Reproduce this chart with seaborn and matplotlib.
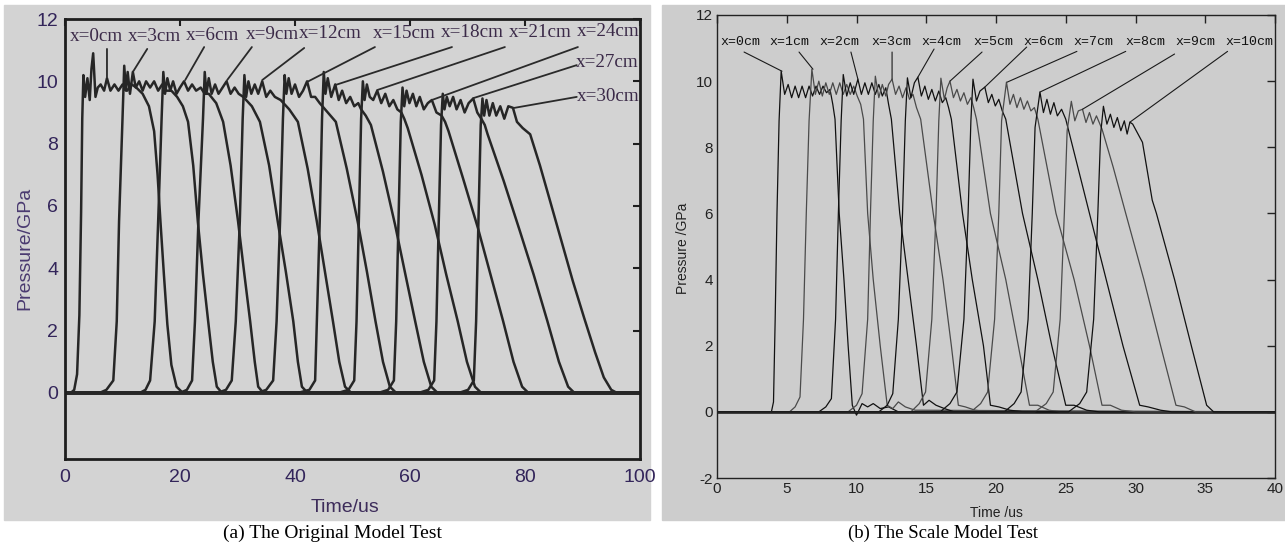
import matplotlib
matplotlib.use('Agg')
import matplotlib.pyplot as plt
from matplotlib.patches import Rectangle
from matplotlib import font_manager
import seaborn as sns
import pandas as pd

# ---------------- (a) original model test: x = 0..30 cm ----------------
a_probes = ['x=0cm', 'x=3cm', 'x=6cm', 'x=9cm', 'x=12cm', 'x=15cm',
            'x=18cm', 'x=21cm', 'x=24cm', 'x=27cm', 'x=30cm']
a_time = [
    [0, 1.0, 1.6, 2.1, 2.5, 2.8, 3.0, 3.2, 3.5, 3.9, 4.3, 4.6, 4.9, 5.3, 5.7, 6.2, 6.8, 7.3, 7.9, 8.6,
     9.3, 10.0, 10.8, 11.6, 12.4, 13.5, 14.6, 15.5, 16.1, 16.6, 17.2, 17.8, 18.5, 19.4, 20.5, 100],
    [0, 6.0, 7.2, 8.4, 9.0, 9.4, 10.0, 10.3, 10.6, 10.9, 11.3, 11.8, 12.3, 12.9, 13.5, 14.1, 14.8, 15.5, 16.2, 16.9,
     17.6, 18.5, 19.5, 20.5, 21.4, 22.3, 23.1, 24.0, 24.9, 25.7, 26.4, 27.3, 100],
    [0, 13.0, 14.0, 14.8, 15.6, 16.2, 16.8, 17.1, 17.4, 17.8, 18.3, 18.8, 19.4, 20.0, 20.7, 21.4, 22.1, 22.8, 23.6, 24.3,
     25.0, 26.3, 27.5, 28.8, 30.1, 31.2, 32.2, 33.0, 33.6, 34.5, 100],
    [0, 20.0, 21.2, 22.1, 22.6, 23.2, 24.0, 24.3, 24.6, 25.0, 25.5, 26.1, 26.7, 27.4, 28.1, 28.8, 29.5, 30.2, 31.0, 32.5,
     33.9, 35.5, 37.0, 38.4, 39.7, 40.5, 41.2, 42.2, 100],
    [0, 26.5, 28.0, 29.0, 29.7, 30.4, 30.9, 31.2, 31.5, 31.9, 32.4, 33.0, 33.6, 34.3, 35.0, 35.7, 36.5, 37.5, 39.0, 40.5,
     42.2, 43.8, 45.2, 46.6, 47.7, 48.7, 49.8, 100],
    [0, 33.5, 35.0, 36.2, 36.8, 37.4, 37.9, 38.2, 38.5, 38.9, 39.4, 40.0, 40.7, 41.4, 42.1, 42.8, 43.5, 44.3, 45.7, 47.1,
     49.0, 50.9, 52.5, 54.0, 55.3, 56.5, 57.6, 100],
    [0, 40.5, 42.5, 43.5, 43.8, 44.3, 44.7, 45.0, 45.3, 45.7, 46.3, 47.0, 47.6, 48.2, 48.9, 49.6, 50.3, 51.0, 51.5, 52.3,
     53.2, 55.3, 57.4, 59.2, 60.9, 62.4, 63.7, 64.8, 100],
    [0, 47.5, 49.3, 50.3, 50.7, 51.1, 51.5, 51.8, 52.1, 52.5, 53.0, 53.6, 54.3, 55.0, 55.7, 56.4, 57.1, 57.8, 58.5, 59.0,
     59.6, 62.0, 64.3, 66.3, 68.3, 69.9, 71.3, 72.4, 100],
    [0, 54.5, 56.2, 57.2, 57.6, 58.0, 58.4, 58.7, 59.0, 59.4, 59.9, 60.5, 61.1, 61.7, 62.4, 63.1, 63.8, 64.6, 65.5, 66.1,
     66.7, 69.2, 71.8, 74.0, 76.2, 78.0, 79.5, 80.6, 100],
    [0, 61.5, 63.2, 64.2, 64.6, 65.0, 65.4, 65.7, 66.0, 66.4, 66.9, 67.5, 68.1, 68.8, 69.5, 70.2, 71.0, 71.7, 72.4, 73.0,
     73.5, 76.3, 79.1, 81.5, 83.9, 85.9, 87.5, 88.6, 100],
    [0, 68.5, 70.1, 71.1, 71.5, 71.9, 72.3, 72.6, 72.9, 73.3, 73.8, 74.4, 75.0, 75.7, 76.4, 77.1, 77.9, 78.6, 79.6, 80.9,
     82.6, 84.3, 86.3, 88.3, 90.3, 92.2, 93.7, 95.0, 96.0, 100],
]
a_pressure = [
    [0, 0, 0.1, 0.6, 2.5, 5.8, 8.8, 10.2, 9.5, 10.1, 9.4, 10.4, 10.9, 9.5, 9.8, 9.9, 9.7, 10.1, 9.7, 9.9,
     9.7, 9.9, 9.7, 9.9, 9.8, 9.6, 9.2, 8.4, 7.0, 5.5, 3.8, 2.2, 0.9, 0.2, 0, 0],
    [0, 0, 0.1, 0.4, 2.3, 5.5, 8.8, 10.5, 9.7, 10.3, 9.6, 10.3, 9.8, 10.0, 9.7, 10.0, 9.8, 10.0, 9.7, 9.9,
     9.7, 9.7, 9.5, 9.2, 8.7, 7.3, 5.5, 3.8, 2.3, 1.0, 0.2, 0, 0],
    [0, 0, 0.1, 0.4, 2.3, 5.5, 8.8, 10.3, 9.6, 10.1, 9.7, 10.0, 9.6, 9.8, 10.0, 9.7, 9.9, 9.7, 9.8, 9.6,
     9.6, 9.3, 8.7, 7.3, 5.5, 3.8, 2.3, 1.0, 0.2, 0, 0],
    [0, 0, 0.1, 0.4, 2.3, 5.5, 8.8, 10.3, 9.6, 10.1, 9.6, 9.9, 9.6, 9.8, 10.0, 9.6, 9.8, 9.6, 9.5, 9.2,
     8.7, 7.3, 5.5, 3.9, 2.3, 1.0, 0.2, 0, 0],
    [0, 0, 0.1, 0.4, 2.3, 5.5, 8.8, 10.2, 9.5, 10.0, 9.6, 9.9, 9.6, 10.0, 9.5, 9.7, 9.5, 9.4, 9.1, 8.7,
     7.2, 5.5, 3.9, 2.3, 1.0, 0.2, 0, 0],
    [0, 0, 0.1, 0.4, 2.3, 5.5, 8.8, 10.2, 9.6, 10.1, 9.6, 9.9, 9.5, 9.7, 10.0, 9.5, 9.5, 9.3, 9.0, 8.7,
     7.2, 5.5, 3.9, 2.3, 1.0, 0.2, 0, 0],
    [0, 0, 0.1, 0.4, 2.3, 5.5, 8.8, 10.3, 9.6, 10.1, 9.5, 9.9, 9.4, 9.7, 9.3, 9.5, 9.2, 9.3, 9.1, 8.9,
     8.6, 7.1, 5.4, 3.8, 2.3, 1.0, 0.2, 0, 0],
    [0, 0, 0.1, 0.4, 2.3, 5.5, 8.8, 10.0, 9.4, 9.9, 9.5, 9.4, 9.7, 9.3, 9.6, 9.2, 9.4, 9.1, 9.0, 8.8,
     8.5, 7.0, 5.4, 3.8, 2.3, 1.0, 0.2, 0, 0],
    [0, 0, 0.1, 0.4, 2.3, 5.5, 8.7, 9.8, 9.2, 9.7, 9.3, 9.6, 9.2, 9.5, 9.1, 9.3, 9.4, 9.0, 8.9, 8.7,
     8.4, 6.9, 5.3, 3.8, 2.3, 1.0, 0.2, 0, 0],
    [0, 0, 0.1, 0.4, 2.3, 5.5, 8.6, 9.6, 9.1, 9.5, 9.2, 9.5, 9.1, 9.4, 9.0, 9.3, 9.45, 9.0, 8.8, 8.6,
     8.3, 6.8, 5.2, 3.8, 2.3, 1.0, 0.2, 0, 0],
    [0, 0, 0.1, 0.4, 2.3, 5.5, 8.6, 9.45, 8.9, 9.4, 8.9, 9.3, 8.9, 9.2, 8.8, 9.2, 9.15, 8.7, 8.5, 8.3,
     7.3, 6.2, 4.9, 3.6, 2.4, 1.3, 0.5, 0.1, 0, 0],
]
a_label_pos = [(5.4, 11.45), (15.5, 11.45), (25.6, 11.47), (36.0, 11.5), (46.1, 11.52), (59.0, 11.55),
               (70.8, 11.57), (82.6, 11.58), (94.4, 11.6), (94.3, 10.59), (94.4, 9.5)]
a_leader_from = [(7.3, 11.04), (14.3, 11.04), (24.2, 11.1), (32.5, 11.1), (41.6, 11.07), (53.9, 11.1),
                 (67.3, 11.1), (76.5, 11.1), (89.2, 11.1), (89.0, 10.52), (89.0, 9.5)]
a_leader_to = [(7.3, 10.14), (11.8, 10.3), (20.9, 10.04), (28.2, 10.04), (34.3, 10.04), (42.1, 9.98),
               (47.0, 9.88), (54.3, 9.72), (63.8, 9.4), (71.0, 9.46), (77.9, 9.14)]

# ---------------- (b) scale model test: x = 0..10 cm ----------------
b_probes = ['x=0cm', 'x=1cm', 'x=2cm', 'x=3cm', 'x=4cm', 'x=5cm',
            'x=6cm', 'x=7cm', 'x=8cm', 'x=9cm', 'x=10cm']
b_time = [
    [0, 3.9, 4.05, 4.17, 4.3, 4.45, 4.6, 4.85, 5.1, 5.35, 5.6, 5.85, 6.1, 6.35, 6.6, 6.85, 7.1, 7.35, 7.6, 7.85,
     8.1, 8.3, 8.46, 8.76, 9.1, 9.4, 9.7, 10.0, 10.4, 10.8, 11.2, 11.7, 12.3, 13.0, 40],
    [0, 5.2, 5.6, 5.95, 6.2, 6.4, 6.6, 6.8, 7.05, 7.3, 7.55, 7.8, 8.05, 8.3, 8.55, 8.8, 9.05, 9.3, 9.55, 9.8,
     10.05, 10.3, 10.5, 10.8, 11.2, 11.7, 12.2, 12.6, 13.0, 13.5, 14.2, 40],
    [0, 7.3, 7.8, 8.2, 8.5, 8.7, 8.9, 9.05, 9.3, 9.55, 9.8, 10.1, 10.35, 10.6, 10.85, 11.1, 11.35, 11.6, 11.85, 12.1,
     12.3, 12.5, 13.1, 13.7, 14.3, 14.8, 15.2, 15.7, 16.3, 17.0, 40],
    [0, 9.4, 10.0, 10.4, 10.8, 11.0, 11.2, 11.35, 11.6, 11.85, 12.1, 12.3, 12.55, 12.8, 13.05, 13.3, 13.55, 13.8, 14.05, 14.3,
     14.6, 15.5, 16.2, 16.8, 17.3, 17.8, 18.5, 19.5, 40],
    [0, 11.6, 12.2, 12.6, 13.0, 13.3, 13.5, 13.65, 13.9, 14.15, 14.4, 14.65, 14.9, 15.15, 15.4, 15.65, 15.9, 16.15, 16.4, 16.6,
     16.8, 17.6, 18.3, 19.1, 19.6, 20.2, 21.0, 22.0, 40],
    [0, 13.9, 14.5, 14.95, 15.4, 15.7, 15.9, 16.05, 16.3, 16.5, 16.7, 16.95, 17.2, 17.45, 17.7, 17.95, 18.2, 18.4, 18.6, 19.6,
     20.7, 21.6, 22.4, 23.0, 23.8, 24.6, 40],
    [0, 16.0, 16.7, 17.2, 17.7, 18.0, 18.2, 18.35, 18.6, 18.85, 19.2, 19.45, 19.7, 19.95, 20.2, 20.45, 20.7, 21.9, 23.0, 24.0,
     25.0, 25.6, 26.5, 27.4, 40],
    [0, 18.2, 18.9, 19.4, 19.9, 20.2, 20.4, 20.75, 21.0, 21.25, 21.5, 21.75, 22.0, 22.25, 22.5, 22.75, 23.0, 24.3, 25.6, 26.7,
     27.6, 28.2, 29.0, 30.0, 40],
    [0, 20.6, 21.3, 21.8, 22.3, 22.6, 22.8, 23.15, 23.4, 23.65, 23.9, 24.15, 24.4, 24.7, 25.0, 26.7, 27.9, 29.1, 30.3, 30.9,
     31.8, 32.6, 40],
    [0, 22.8, 23.6, 24.1, 24.6, 24.9, 25.1, 25.4, 25.65, 25.9, 26.2, 26.45, 26.7, 26.95, 27.2, 27.6, 28.4, 29.3, 30.6, 31.8,
     32.9, 33.5, 34.3, 40],
    [0, 25.2, 26.0, 26.5, 27.0, 27.3, 27.5, 27.7, 27.95, 28.2, 28.45, 28.7, 28.95, 29.2, 29.4, 29.6, 29.8, 30.5, 31.2, 31.5,
     32.8, 34.0, 35.1, 35.6, 40],
]
b_pressure = [
    [0, 0, 0.3, 2.8, 6.0, 8.8, 10.3, 9.6, 9.9, 9.5, 9.85, 9.5, 9.85, 9.5, 9.85, 9.55, 9.85, 9.6, 9.85, 9.65,
     9.75, 9.3, 8.85, 6.0, 4.0, 2.0, 0.2, -0.1, 0.25, 0.15, 0.25, 0.1, 0.15, 0, 0],
    [0, 0, 0.15, 0.45, 2.8, 6.0, 8.8, 10.36, 9.6, 10.0, 9.55, 9.95, 9.6, 9.95, 9.6, 9.95, 9.6, 9.9, 9.6, 9.85,
     9.55, 9.3, 8.85, 6.0, 4.0, 2.0, 0.2, 0.1, 0.3, 0.15, 0.05, 0],
    [0, 0, 0.15, 0.4, 2.8, 6.0, 8.8, 10.2, 9.55, 9.95, 9.6, 10.06, 9.6, 9.95, 9.6, 9.95, 9.6, 9.9, 9.55, 9.8,
     9.3, 8.85, 6.0, 4.0, 2.0, 0.2, 0.35, 0.2, 0.1, 0, 0],
    [0, 0, 0.2, 0.55, 2.8, 6.0, 8.8, 10.15, 9.5, 9.9, 9.55, 9.9, 10.06, 9.6, 9.85, 9.5, 9.8, 9.45, 9.6, 9.2,
     8.85, 6.0, 4.0, 2.0, 0.2, 0.15, 0.05, 0, 0],
    [0, 0, 0.2, 0.55, 2.8, 6.0, 8.8, 10.1, 9.5, 9.95, 10.12, 9.55, 9.85, 9.45, 9.75, 9.4, 9.7, 9.35, 9.5, 9.2,
     8.85, 6.0, 4.0, 2.0, 0.2, 0.15, 0.05, 0, 0],
    [0, 0, 0.25, 0.6, 2.8, 6.0, 8.8, 10.09, 9.45, 9.8, 10.0, 9.5, 9.75, 9.4, 9.65, 9.3, 9.5, 9.2, 8.85, 6.0,
     4.0, 2.0, 0.2, 0.2, 0.05, 0, 0],
    [0, 0, 0.25, 0.6, 2.8, 6.0, 8.8, 10.06, 9.4, 9.7, 9.82, 9.35, 9.6, 9.25, 9.45, 9.1, 8.85, 6.0, 4.0, 2.0,
     0.2, 0.2, 0.05, 0, 0],
    [0, 0, 0.25, 0.6, 2.8, 6.0, 8.8, 9.97, 9.3, 9.6, 9.2, 9.5, 9.15, 9.4, 9.1, 9.2, 8.85, 6.0, 4.0, 2.0,
     0.2, 0.2, 0.05, 0, 0],
    [0, 0, 0.25, 0.6, 2.8, 6.0, 8.6, 9.67, 9.05, 9.45, 9.0, 9.35, 8.95, 9.15, 8.85, 6.0, 4.0, 2.0, 0.2, 0.15,
     0.05, 0, 0],
    [0, 0, 0.25, 0.6, 2.8, 6.0, 8.5, 9.39, 8.8, 9.1, 9.15, 8.75, 9.05, 8.7, 8.95, 8.55, 7.4, 6.0, 4.0, 2.0,
     0.2, 0.15, 0, 0],
    [0, 0, 0.25, 0.6, 2.8, 6.0, 8.4, 9.24, 8.7, 9.0, 8.6, 8.9, 8.5, 8.8, 8.4, 8.76, 8.7, 8.15, 6.4, 6.0,
     4.0, 2.0, 0.2, 0, 0],
]
b_label_pos = [(1.65, 11.18), (5.2, 11.18), (8.8, 11.18), (12.5, 11.18), (16.1, 11.18), (19.8, 11.18),
               (23.4, 11.18), (26.95, 11.18), (30.7, 11.18), (34.3, 11.18), (38.2, 11.18)]
b_leader_from = [(1.94, 10.88), (5.88, 10.88), (9.6, 10.88), (12.55, 10.88), (15.56, 10.97), (19.0, 10.88),
                 (22.2, 11.03), (25.8, 10.9), (29.3, 10.9), (32.8, 10.82), (36.6, 10.9)]
b_leader_to = [(4.66, 10.30), (6.88, 10.36), (10.1, 10.06), (12.55, 10.06), (14.4, 10.12), (16.7, 10.0),
               (19.2, 9.82), (20.8, 9.97), (23.15, 9.67), (26.2, 9.15), (29.6, 8.76)]


def long_frame(names, times, press):
    rows = []
    for n, t, p in zip(names, times, press):
        assert len(t) == len(p), n
        for ti, pi in zip(t, p):
            rows.append((n, ti, pi))
    return pd.DataFrame(rows, columns=['probe', 'time', 'pressure'])


df_a = long_frame(a_probes, a_time, a_pressure)
df_b = long_frame(b_probes, b_time, b_pressure)

names = {f.name for f in font_manager.fontManager.ttflist}
narrow = 'Liberation Sans Narrow' if 'Liberation Sans Narrow' in names else 'Liberation Sans'

sns.set_style('white')
plt.rcParams['font.family'] = ['Liberation Sans', 'DejaVu Sans']
plt.rcParams['axes.unicode_minus'] = False

W, H = 1285, 544
fig = plt.figure(figsize=(W / 100, H / 100), dpi=100)
fig.add_artist(Rectangle((4 / W, 24 / H), 646 / W, 515 / H, transform=fig.transFigure,
                         color='#d3d3d3', zorder=-5))
fig.add_artist(Rectangle((662 / W, 24 / H), 623 / W, 515 / H, transform=fig.transFigure,
                         color='#cdcdcd', zorder=-5))

# ---------- panel (a) ----------
ax_a = fig.add_axes([65 / W, 85 / H, 575 / W, 440 / H])
ax_a.set_facecolor('#d3d3d3')
ax_a.axhline(0, color='#3a3a3a', lw=2.6, zorder=1)
sns.lineplot(data=df_a, x='time', y='pressure', units='probe', estimator=None, sort=False,
             color='#262626', linewidth=1.8, ax=ax_a, legend=False, zorder=2)
ax_a.set_xlim(0, 100)
ax_a.set_ylim(-2.12, 12)
ax_a.set_xticks(range(0, 101, 20))
ax_a.set_yticks(range(0, 13, 2))
ax_a.set_xlabel('')
ax_a.set_ylabel('')
for s in ax_a.spines.values():
    s.set_visible(True)
    s.set_linewidth(2.0)
    s.set_color('#1e1e1e')
ax_a.tick_params(direction='in', top=True, right=True, length=5, width=1.5, color='#1e1e1e',
                 labelsize=14, labelcolor='#33255a')
ax_a.tick_params(axis='x', pad=7)
ax_a.tick_params(axis='y', pad=5)

for lab, pos, p0, p1 in zip(a_probes, a_label_pos, a_leader_from, a_leader_to):
    ax_a.annotate('', xy=p1, xytext=p0,
                  arrowprops=dict(arrowstyle='-', color='#2a2a2a', lw=1.3, shrinkA=0, shrinkB=0))
    ax_a.text(pos[0], pos[1], lab, ha='center', va='center', family='Liberation Serif',
              fontsize=13.8, color='#3b2a48')

fig.text(25 / W, 1 - 248 / H, 'Pressure/GPa', rotation=90, ha='center', va='center',
         fontsize=14, color='#4a3a70')
fig.text(345 / W, 1 - 507 / H, 'Time/us', ha='center', va='center', fontsize=14, color='#3d2c5a')
fig.text(332 / W, 1 - 533 / H, '(a) The Original Model Test', ha='center', va='center',
         family='Liberation Serif', fontsize=14, color='black')

# ---------- panel (b) ----------
ax_b = fig.add_axes([717 / W, 66 / H, 558 / W, 463 / H])
ax_b.set_facecolor('#cdcdcd')
ax_b.axhline(0, color='#111111', lw=1.8, zorder=1)
shades = ['#111111', '#4a4a4a'] * 6
pal = {p: shades[i] for i, p in enumerate(b_probes)}
sns.lineplot(data=df_b, x='time', y='pressure', hue='probe', units='probe', estimator=None,
             sort=False, palette=pal, linewidth=0.9, ax=ax_b, legend=False, zorder=2)
ax_b.set_xlim(0, 40)
ax_b.set_ylim(-2, 12)
ax_b.set_xticks(range(0, 41, 5))
ax_b.set_yticks(range(-2, 13, 2))
ax_b.set_xlabel('')
ax_b.set_ylabel('')
for s in ax_b.spines.values():
    s.set_visible(True)
    s.set_linewidth(1.0)
    s.set_color('#222222')
ax_b.tick_params(direction='in', top=True, right=True, length=6, width=1.0, color='#222222',
                 labelsize=11, labelcolor='#222222', pad=3)
for lbl in ax_b.get_xticklabels() + ax_b.get_yticklabels():
    lbl.set_fontfamily(narrow)

for lab, pos, p0, p1 in zip(b_probes, b_label_pos, b_leader_from, b_leader_to):
    ax_b.annotate('', xy=p1, xytext=p0,
                  arrowprops=dict(arrowstyle='-', color='#1a1a1a', lw=0.8, shrinkA=0, shrinkB=0))
    ax_b.text(pos[0], pos[1], lab, ha='center', va='center', family='Liberation Mono',
              fontsize=9.5, color='#111111')

fig.text(683 / W, 1 - 248 / H, 'Pressure /GPa', rotation=90, ha='center', va='center',
         family=narrow, fontsize=10, color='#222222')
fig.text(996 / W, 1 - 513 / H, 'Time /us', ha='center', va='center', family=narrow,
         fontsize=10, color='#222222')
fig.text(943 / W, 1 - 533 / H, '(b) The Scale Model Test', ha='center', va='center',
         family='Liberation Serif', fontsize=13.5, color='black')

fig.savefig('out.png', dpi=100, facecolor='white')
